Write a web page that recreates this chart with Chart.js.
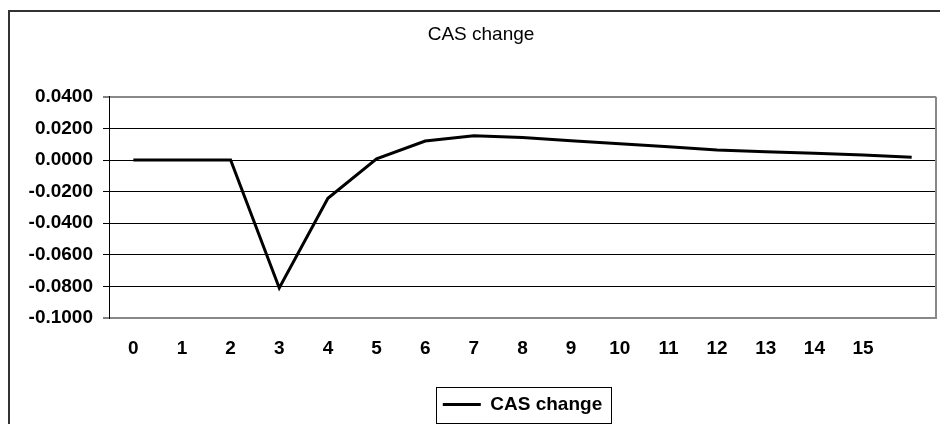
<!DOCTYPE html>
<html>
<head>
<meta charset="utf-8">
<script src="https://cdn.jsdelivr.net/npm/chart.js@4/dist/chart.umd.min.js"></script>
<style>
  html, body { margin: 0; padding: 0; background: #fff; overflow: hidden; }
  #wrap { width: 940px; height: 424px; }
</style>
</head>
<body>
<div id="wrap"><canvas id="casChart" width="940" height="424"></canvas></div>
<script>
// data
const periods = ['0', '1', '2', '3', '4', '5', '6', '7', '8', '9', '10', '11', '12', '13', '14', '15', ''];
const casChange = [0, 0, 0, -0.081, -0.0242, 0.0008, 0.012, 0.0154, 0.0143, 0.0122, 0.0103,
  0.0084, 0.0063, 0.0053, 0.0042, 0.0031, 0.0018];
const yMin = -0.1;
const yMax = 0.04;
const yStep = 0.02;

const fontFamily = '"Liberation Sans", Arial, sans-serif';

// outer chart frame (cut at right and bottom like the source) + white bg
const frame = {
  id: 'frame',
  beforeDraw(chart) {
    const ctx = chart.ctx;
    ctx.save();
    ctx.fillStyle = '#fff';
    ctx.fillRect(0, 0, chart.width, chart.height);
    ctx.strokeStyle = '#333';
    ctx.lineWidth = 2;
    ctx.beginPath();
    ctx.moveTo(9, chart.height);
    ctx.lineTo(9, 11);
    ctx.lineTo(chart.width, 11);
    ctx.stroke();
    ctx.restore();
  },
  beforeDatasetsDraw(chart) {
    // grey right edge of the plot area
    const a = chart.chartArea;
    const ctx = chart.ctx;
    ctx.save();
    ctx.strokeStyle = '#888';
    ctx.lineWidth = 2;
    ctx.beginPath();
    ctx.moveTo(a.right, a.top);
    ctx.lineTo(a.right, a.bottom);
    ctx.stroke();
    ctx.restore();
  },
  afterDraw(chart) {
    // box around the legend
    const hb = chart.legend && chart.legend.legendHitBoxes && chart.legend.legendHitBoxes[0];
    if (!hb) return;
    const ctx = chart.ctx;
    const cy = hb.top + hb.height / 2;
    ctx.save();
    ctx.strokeStyle = '#000';
    ctx.lineWidth = 1;
    ctx.strokeRect(Math.round(hb.left - 7) + 0.5, Math.round(cy - 18) + 0.5, Math.round(hb.width + 16), 36);
    ctx.restore();
  }
};

const edge = (v) => Math.abs(v - yMax) < 1e-9 || Math.abs(v - yMin) < 1e-9;

new Chart(document.getElementById('casChart'), {
  type: 'line',
  data: {
    labels: periods,
    datasets: [{
      label: 'CAS change',
      data: casChange,
      borderColor: '#000',
      backgroundColor: '#000',
      borderWidth: 3,
      pointRadius: 0,
      tension: 0,
      fill: false
    }]
  },
  options: {
    responsive: false,
    animation: false,
    events: [],
    layout: { padding: { left: 26, right: 4, top: 0, bottom: 0 } },
    scales: {
      x: {
        offset: true,
        grid: { display: false, drawTicks: false },
        border: { display: true, color: '#888', width: 2 },
        ticks: {
          color: '#000',
          padding: 19,
          maxRotation: 0,
          autoSkip: false,
          font: { family: fontFamily, size: 19, weight: 'bold' }
        },
        afterFit(scale) { scale.height = 67; }
      },
      y: {
        min: yMin,
        max: yMax,
        grid: {
          color: (c) => edge(c.tick.value) ? '#888' : '#000',
          lineWidth: (c) => edge(c.tick.value) ? 2 : 1,
          tickColor: '#000',
          tickWidth: 1,
          tickLength: 6
        },
        border: { display: true, color: '#000', width: 1 },
        ticks: {
          stepSize: yStep,
          color: '#000',
          padding: 10,
          font: { family: fontFamily, size: 19, weight: 'bold' },
          callback: (v) => (Math.abs(v) < 1e-9 ? 0 : v).toFixed(4)
        },
        afterFit(scale) { scale.width = 83; }
      }
    },
    plugins: {
      title: {
        display: true,
        text: 'CAS change',
        color: '#000',
        font: { family: fontFamily, size: 19, weight: 'normal' },
        padding: { top: 23, bottom: 51 }
      },
      legend: {
        position: 'bottom',
        fullSize: false,
        labels: {
          color: '#000',
          usePointStyle: true,
          pointStyle: 'line',
          pointStyleWidth: 38,
          padding: 10,
          font: { family: fontFamily, size: 19, weight: 'bold' }
        }
      },
      tooltip: { enabled: false }
    }
  },
  plugins: [frame]
});
</script>
</body>
</html>
